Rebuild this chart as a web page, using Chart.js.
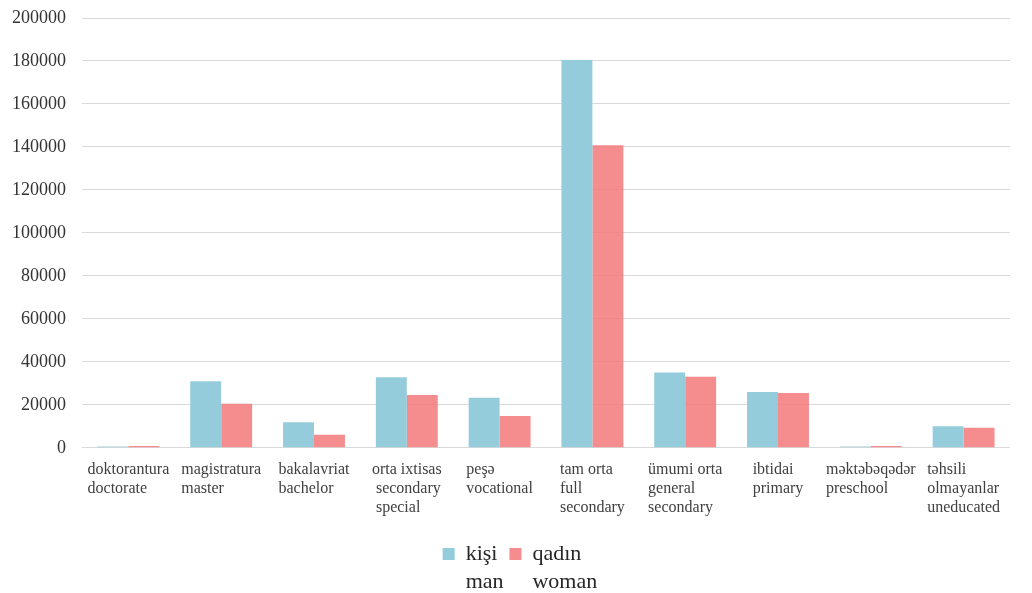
<!DOCTYPE html>
<html>
<head>
<meta charset="utf-8">
<script src="https://cdn.jsdelivr.net/npm/chart.js@4.4.0/dist/chart.umd.min.js"></script>
<style>
html,body{margin:0;padding:0;background:#fff;}
#wrap{width:1032px;height:593px;position:relative;}
</style>
</head>
<body>
<div id="wrap"><canvas id="c"></canvas></div>
<script>
const categories = [
  ["doktorantura", "doctorate"],
  ["magistratura", "master"],
  ["bakalavriat", "bachelor"],
  ["orta ixtisas", " secondary", " special"],
  ["peşə", "vocational"],
  ["tam orta", "full", "secondary"],
  ["ümumi orta", "general", "secondary"],
  ["ibtidai", "primary"],
  ["məktəbəqədər", "preschool"],
  ["təhsili", "olmayanlar", "uneducated"]
];
const seriesNames = [["kişi", "man"], ["qadın", "woman"]];
const manValues   = [600, 31000, 11900, 32800, 23300, 180400, 35100, 26000, 600, 10100];
const womanValues = [800, 20500, 6100, 24600, 14800, 140800, 33100, 25500, 800, 9300];
const yTicks = [0, 20000, 40000, 60000, 80000, 100000, 120000, 140000, 160000, 180000, 200000];

const LEGEND_FONT = { family: 'Liberation Serif', size: 22, lineHeight: 1.28 };

// Left-align the lines of each x label inside a block centred on its category
const blockLabels = {
  id: 'blockLabels',
  afterLayout(chart) {
    // nudge the legend block slightly right, as in the reference
    const lg = chart.legend;
    if (lg) { lg.left += 9; lg.right += 9; }
  },
  beforeDraw(chart) {
    const xs = chart.scales.x;
    const items = xs.getLabelItems();
    const ctx = chart.ctx;
    ctx.save();
    items.forEach((it, i) => {
      ctx.font = it.font.string;
      const lines = Array.isArray(it.label) ? it.label : [it.label];
      const w = Math.max(...lines.map(l => ctx.measureText(l).width));
      let left = xs.getPixelForTick(i) - w / 2;
      left = Math.min(left, chart.width - 2 - w);
      it.options.translation[0] = left;
      it.options.textAlign = 'left';
    });
    ctx.restore();
  }
};

// Second legend line under each legend entry
const legendSecondLine = {
  id: 'legendSecondLine',
  afterDraw(chart) {
    const lg = chart.legend;
    if (!lg || !lg.legendHitBoxes) return;
    const ctx = chart.ctx;
    const opts = lg.options.labels;
    ctx.save();
    ctx.font = `${LEGEND_FONT.size}px "${LEGEND_FONT.family}"`;
    ctx.fillStyle = opts.color;
    ctx.textAlign = 'left';
    ctx.textBaseline = 'middle';
    lg.legendHitBoxes.forEach((hb, i) => {
      const x = hb.left + opts.boxWidth + LEGEND_FONT.size / 2;
      const y = hb.top + hb.height / 2 + LEGEND_FONT.size * LEGEND_FONT.lineHeight;
      ctx.fillText(seriesNames[i][1], x, y);
    });
    ctx.restore();
  }
};

new Chart(document.getElementById('c'), {
  type: 'bar',
  data: {
    labels: categories,
    datasets: [
      { label: seriesNames[0][0], data: manValues, backgroundColor: '#95CCDB', borderWidth: 0,
        categoryPercentage: 0.667, barPercentage: 1.0 },
      { label: seriesNames[1][0], data: womanValues, backgroundColor: 'rgba(243,120,122,0.85)', borderWidth: 0,
        categoryPercentage: 0.667, barPercentage: 1.0 }
    ]
  },
  plugins: [blockLabels, legendSecondLine],
  options: {
    responsive: true,
    maintainAspectRatio: false,
    animation: false,
    layout: { padding: { left: -4, right: 22, top: 18, bottom: 18 } },
    plugins: {
      legend: {
        position: 'bottom',
        labels: {
          boxWidth: 12, boxHeight: 12, padding: 12,
          color: '#262626',
          font: LEGEND_FONT
        }
      },
      tooltip: { enabled: false }
    },
    scales: {
      x: {
        grid: { display: false },
        border: { display: false },
        afterFit: (axis) => { axis.height += 9; },
        ticks: {
          autoSkip: false, maxRotation: 0, minRotation: 0,
          align: 'center', padding: 5,
          color: '#404040',
          font: { family: 'Liberation Serif', size: 16, lineHeight: 1.17 }
        }
      },
      y: {
        min: 0, max: 200000,
        afterBuildTicks: (axis) => { axis.ticks = yTicks.map(v => ({ value: v })); },
        afterFit: (axis) => { axis.paddingTop = 0; },
        grid: { color: '#d9d9d9', drawTicks: false, lineWidth: 1 },
        border: { display: false },
        ticks: {
          padding: 16,
          color: '#333',
          font: { family: 'Liberation Serif', size: 18 },
          callback: (v) => String(v)
        }
      }
    }
  }
});
</script>
</body>
</html>
